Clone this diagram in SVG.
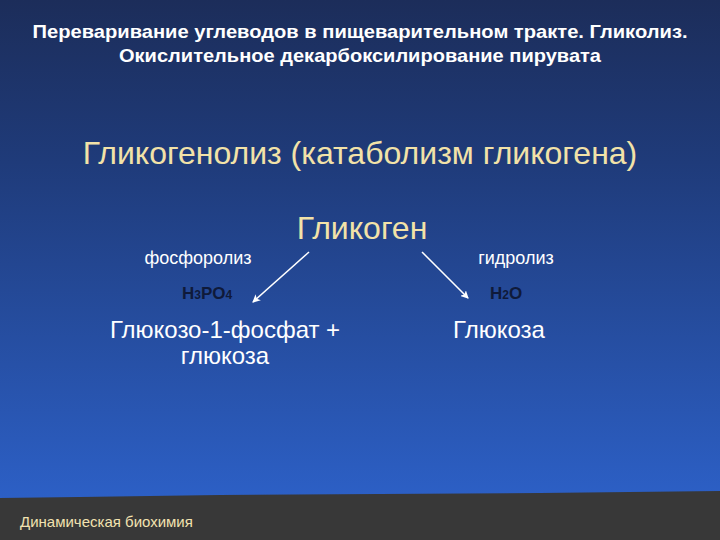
<svg xmlns="http://www.w3.org/2000/svg" width="720" height="540" viewBox="0 0 720 540">
<defs>
<linearGradient id="bg" x1="0" y1="0" x2="0" y2="1">
<stop offset="0" stop-color="#1c2d5a"/>
<stop offset="0.3" stop-color="#1f3b7a"/>
<stop offset="1" stop-color="#2e64cf"/>
</linearGradient>
<marker id="ah" markerWidth="8" markerHeight="8" refX="7" refY="4" orient="auto" markerUnits="userSpaceOnUse">
<path d="M0,0 L8,4 L0,8 L2,4 Z" fill="#ffffff"/>
</marker>
<style>
.t{font-family:"Liberation Sans",Arial,sans-serif;}
.title{font-size:19px;font-weight:bold;fill:#ffffff;}
.head{font-size:32px;fill:#f2e2a8;}
.w{fill:#ffffff;}
.dk{fill:#0f1a3a;font-weight:bold;}
</style>
</defs>
<rect width="720" height="540" fill="url(#bg)"/>
<polygon points="0,498 80,497 220,495 380,494 540,493 720,491 720,540 0,540" fill="#383838"/>
<text class="t title" x="360" y="38" text-anchor="middle" textLength="655" lengthAdjust="spacingAndGlyphs">Переваривание углеводов в пищеварительном тракте. Гликолиз.</text>
<text class="t title" x="360" y="62" text-anchor="middle" textLength="482" lengthAdjust="spacingAndGlyphs">Окислительное декарбоксилирование пирувата</text>
<text class="t head" x="360" y="164" text-anchor="middle">Гликогенолиз (катаболизм гликогена)</text>
<g id="glycogen"><text class="t head" x="362" y="239" text-anchor="middle">Гликоген</text></g>
<g id="phosphorolysis"><text class="t w" x="198" y="264" font-size="18" text-anchor="middle">фосфоролиз</text></g>
<g id="hydrolysis"><text class="t w" x="516" y="264" font-size="18" text-anchor="middle">гидролиз</text></g>
<g id="h3po4"><text class="t dk" x="182" y="299" font-size="17">H<tspan font-size="12">3</tspan>PO<tspan font-size="12">4</tspan></text></g>
<g id="h2o"><text class="t dk" x="490" y="299" font-size="17">H<tspan font-size="12">2</tspan>O</text></g>
<g id="g1p"><text class="t w" x="225" y="338" font-size="24" text-anchor="middle">Глюкозо-1-фосфат +</text>
<text class="t w" x="225" y="364" font-size="24" text-anchor="middle">глюкоза</text></g>
<g id="glucose"><text class="t w" x="499" y="338" font-size="24" text-anchor="middle">Глюкоза</text></g>
<g id="connectors" stroke="#ffffff" stroke-width="1.5" fill="none">
<line x1="309" y1="252" x2="253" y2="302" marker-end="url(#ah)"/>
<line x1="422" y1="252" x2="468" y2="298" marker-end="url(#ah)"/>
</g>
<text class="t" x="20" y="527" font-size="15" fill="#f2e2b0">Динамическая биохимия</text>
</svg>
